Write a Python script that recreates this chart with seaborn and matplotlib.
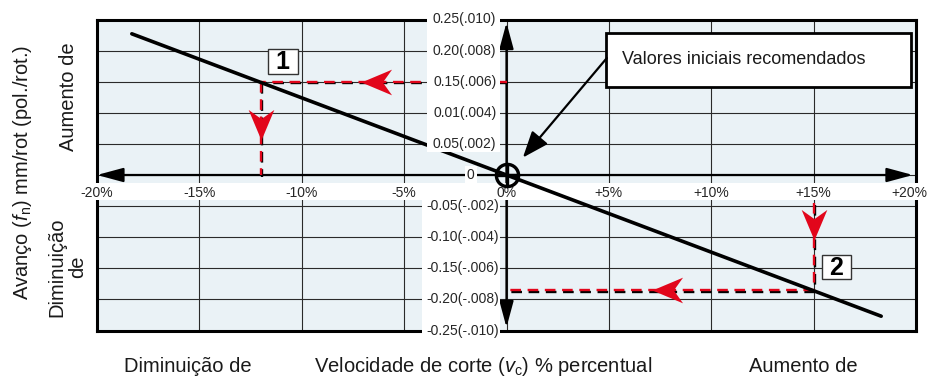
import numpy as np
import pandas as pd
import matplotlib
matplotlib.use("Agg")
import matplotlib.pyplot as plt
import matplotlib.patheffects as pe
from matplotlib.patches import Rectangle
from matplotlib.path import Path
from matplotlib.markers import MarkerStyle
from matplotlib.transforms import Affine2D
import seaborn as sns

# ---- data -------------------------------------------------------------
x_ticks = [-20, -15, -10, -5, 0, 5, 10, 15, 20]
x_labels = ["-20%", "-15%", "-10%", "-5%", "0%", "+5%", "+10%", "+15%", "+20%"]
y_ticks_pos = [0.05, 0.10, 0.15, 0.20, 0.25]
y_labels_pos = ["0.05(.002)", "0.01(.004)", "0.15(.006)", "0.20(.008)", "0.25(.010)"]
y_ticks_neg = [-0.05, -0.10, -0.15, -0.20, -0.25]
y_labels_neg = ["-0.05(-.002)", "-0.10(-.004)", "-0.15(-.006)", "-0.20(-.008)", "-0.25(-.010)"]

# feed vs. cutting speed relation
line_x = [-18.3, 18.3]
line_y = [0.227, -0.227]

# worked examples: (speed %, feed)
ex1 = (-12.0, 0.15)
ex2 = (15.0, -0.185)
ex_labels = ["1", "2"]
ex_label_pos = [(-10.93, 0.182), (16.12, -0.148)]
# arrow tips on the guide lines (x, y, direction in degrees)
guide_tips = [(-7.1, 0.15, 180), (-12.0, 0.056, -90), (15.0, -0.104, -90), (7.1, -0.185, 180)]

callout_text = "Valores iniciais recomendados"

# ---- style ------------------------------------------------------------
sns.set_style("white")
plt.rcParams["font.family"] = ["Liberation Sans", "DejaVu Sans"]
plt.rcParams["mathtext.fontset"] = "custom"
plt.rcParams["mathtext.rm"] = "Liberation Sans"
plt.rcParams["mathtext.it"] = "Liberation Sans:italic"

RED = "#E2061B"
BG = "#EAF2F6"
INK = "#1a1a1a"

fig = plt.figure(figsize=(9.3, 3.79), dpi=100)
ax = fig.add_axes([97 / 930, 1 - 330.5 / 379, (916 - 97) / 930, (330.5 - 19.5) / 379])
ax.set_facecolor(BG)
ax.set_xlim(-20, 20)
ax.set_ylim(-0.25, 0.25)

# grid
ax.set_xticks(x_ticks)
ax.set_yticks(sorted(y_ticks_neg + [0] + y_ticks_pos))
ax.tick_params(length=0, labelbottom=False, labelleft=False)
ax.grid(True, color="#2a2a2a", lw=0.8, zorder=1)
ax.set_axisbelow(True)
for s in ax.spines.values():
    s.set_linewidth(2.2)
    s.set_color("black")
    s.set_zorder(2)

# axes with arrowheads
arrow_kw = dict(arrowstyle="<|-|>,head_length=1.0,head_width=0.27", mutation_scale=16,
                lw=1.6, color="black", shrinkA=0, shrinkB=0)
ax.annotate("", xy=(-20, 0), xytext=(19.85, 0), arrowprops=arrow_kw, zorder=2.5)
ax.annotate("", xy=(0, 0.245), xytext=(0, -0.245), arrowprops=arrow_kw, zorder=2.5)

# red guide lines with dark shadow
guide_kw = dict(color=RED, lw=1.7, dashes=(4.5, 2.8), zorder=3.2,
                path_effects=[pe.SimpleLineShadow(offset=(1.2, -1.2), shadow_color="black",
                                                  alpha=1.0, rho=1.0), pe.Normal()])
ax.plot([0, ex1[0]], [ex1[1], ex1[1]], **guide_kw)
ax.plot([ex1[0], ex1[0]], [ex1[1], 0], **guide_kw)
ax.plot([ex2[0], ex2[0]], [-0.045, ex2[1]], **guide_kw)
ax.plot([ex2[0], 0], [ex2[1], ex2[1]], **guide_kw)

head = Path([(0, 0), (-1.0, 0.42), (-0.7, 0), (-1.0, -0.42), (0, 0)],
            [Path.MOVETO, Path.LINETO, Path.LINETO, Path.LINETO, Path.CLOSEPOLY])
for tx, ty, ang in guide_tips:
    ax.plot([tx], [ty], linestyle="none",
            marker=MarkerStyle(head, transform=Affine2D().rotate_deg(ang)),
            ms=44, mfc=RED, mew=0, zorder=3.4)

# white strips behind tick labels
ax.add_patch(Rectangle((-21, -0.0402), 42, 0.0273, facecolor="white", edgecolor="none",
                       zorder=4, clip_on=False))
ax.add_patch(Rectangle((-3.9, 0.037), 3.58, 0.24, facecolor="white", edgecolor="none",
                       zorder=5, clip_on=False))
ax.add_patch(Rectangle((-4.13, -0.262), 3.81, 0.23, facecolor="white", edgecolor="none",
                       zorder=5, clip_on=False))

# main relation line
df = pd.DataFrame({"speed": line_x, "feed": line_y})
sns.lineplot(data=df, x="speed", y="feed", ax=ax, color="black", lw=2.6, sort=False,
             zorder=4.5)
ax.set_xlabel("")
ax.set_ylabel("")

# origin marker
ax.plot([0], [0], marker="o", ms=16, mfc="none", mec="black", mew=2.4, zorder=7)
ax.plot([0], [0], marker="+", ms=16, mec="black", mew=2.4, zorder=7)

# tick labels
for xv, lab in zip(x_ticks, x_labels):
    xt = min(xv, 19.7)
    ax.text(xt, -0.029, lab, ha="center", va="center", fontsize=10, zorder=6, clip_on=False)
for yv, lab in zip(y_ticks_pos, y_labels_pos):
    ax.text(-0.5, yv, lab, ha="right", va="center", fontsize=10, zorder=6, clip_on=False)
for yv, lab in zip(y_ticks_neg, y_labels_neg):
    ax.text(-0.35, yv, lab, ha="right", va="center", fontsize=10, zorder=6, clip_on=False)
ax.text(-1.74, 0, "0", ha="center", va="center", fontsize=10, zorder=6,
        bbox=dict(facecolor="white", edgecolor="none", pad=1.5))

# example number boxes
box_w, box_h = 1.45, 0.040
for lab, (lx, ly) in zip(ex_labels, ex_label_pos):
    ax.add_patch(Rectangle((lx - box_w / 2, ly - box_h / 2), box_w, box_h, facecolor="white",
                           edgecolor="#333333", lw=1.0, zorder=8))
    ax.text(lx, ly - 0.001, lab, ha="center", va="center", fontsize=18, fontweight="bold",
            color="black", zorder=9)

# callout
ax.add_patch(Rectangle((4.87, 0.1415), 14.87, 0.0865, facecolor="white", edgecolor="black",
                       lw=2.0, zorder=8))
ax.text(5.65, 0.186, callout_text, ha="left", va="center", fontsize=13, color=INK, zorder=9)
ax.annotate("", xy=(0.8, 0.028), xytext=(4.9, 0.188), zorder=8,
            arrowprops=dict(arrowstyle="-|>,head_length=0.9,head_width=0.35", mutation_scale=18,
                            lw=1.6, color="black", shrinkA=0, shrinkB=0))

# axis titles
fig.text(22 / 930, 1 - 172 / 379, r"Avanço ($f_{\mathrm{n}}$) mm/rot (pol./rot.)", rotation=90,
         ha="center", va="center", fontsize=14.5, color=INK)
fig.text(68 / 930, 1 - 97 / 379, "Aumento de", rotation=90, ha="center", va="center",
         fontsize=14.5, color=INK)
fig.text(67 / 930, 1 - 267 / 379, "Diminuição\nde", rotation=90, ha="center", va="center",
         multialignment="center", fontsize=14.5, color=INK, linespacing=1.1)
fig.text(188 / 930, 1 - 366 / 379, "Diminuição de", ha="center", va="center",
         fontsize=14.5, color=INK)
fig.text(483 / 930, 1 - 366 / 379, r"Velocidade de corte ($v_{\mathrm{c}}$) % percentual",
         ha="center", va="center", fontsize=14.5, color=INK)
fig.text(803 / 930, 1 - 366 / 379, "Aumento de", ha="center", va="center",
         fontsize=14.5, color=INK)

fig.savefig("out.png", dpi=100)
